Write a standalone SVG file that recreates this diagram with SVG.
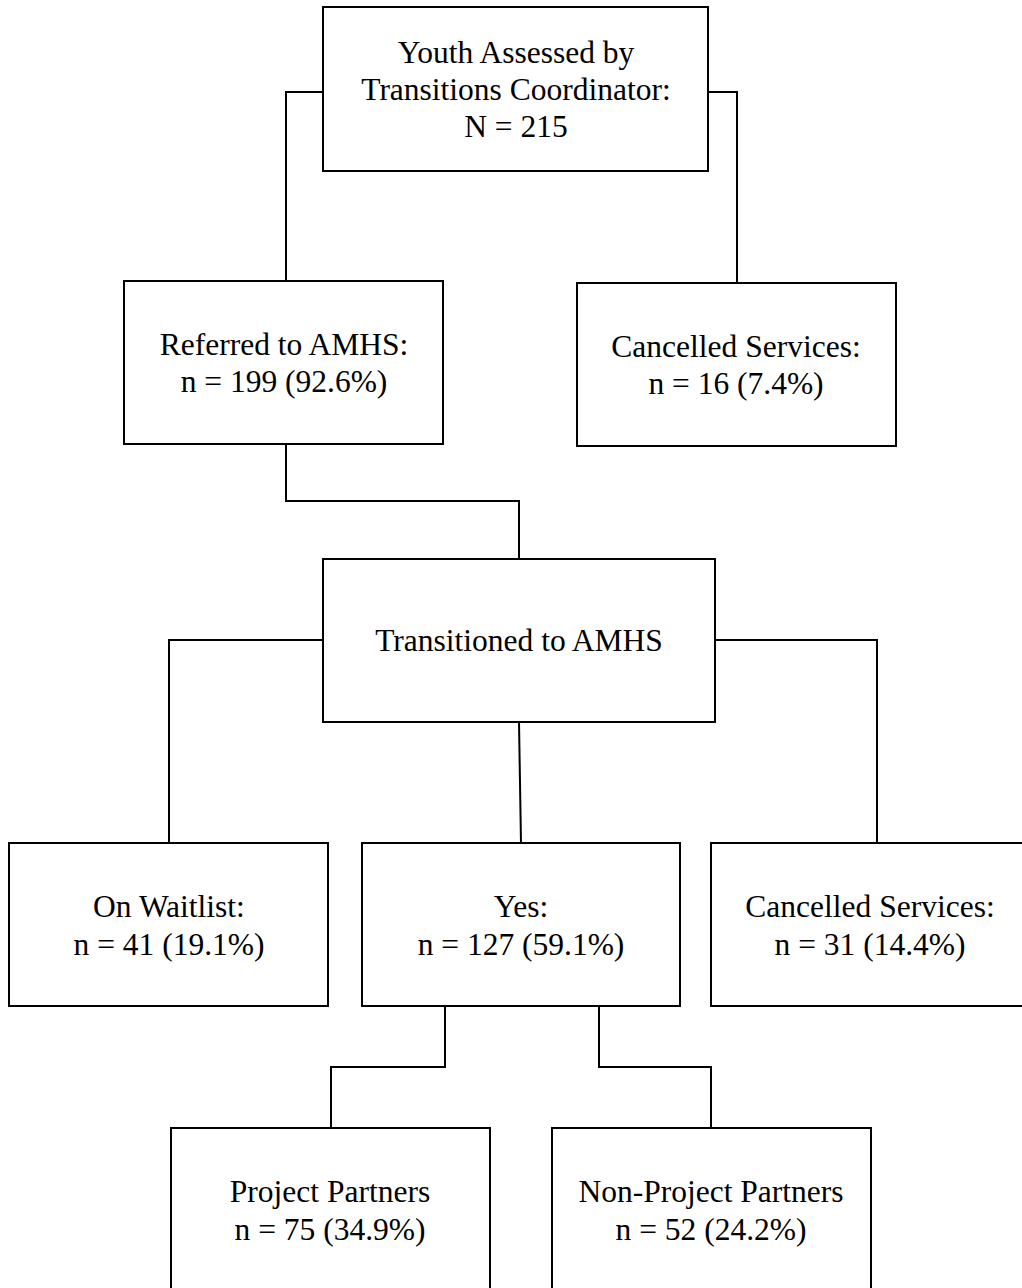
<svg xmlns="http://www.w3.org/2000/svg" width="1022" height="1288" viewBox="0 0 1022 1288">
<style>
.box{fill:#fff;stroke:#000;stroke-width:2}
.con{fill:none;stroke:#000;stroke-width:2}
text{font-family:"Liberation Serif","Times New Roman",serif;font-size:31.5px;fill:#000;text-anchor:middle}
</style>
<rect width="1022" height="1288" fill="#fff"/>
<g id="connectors">
<polyline class="con" points="323,92 286,92 286,282"/>
<polyline class="con" points="708,92 737,92 737,283"/>
<polyline class="con" points="286,444 286,501 519,501 519,559"/>
<polyline class="con" points="323,640 169,640 169,843"/>
<polyline class="con" points="715,640 877,640 877,843"/>
<line class="con" x1="519" y1="722" x2="521" y2="843"/>
<polyline class="con" points="445,1006 445,1067 331,1067 331,1128"/>
<polyline class="con" points="599,1006 599,1067 711,1067 711,1128"/>
</g>
<g id="n-youth">
<rect class="box" x="323" y="7" width="385" height="164"/>
<text x="516" y="63">Youth Assessed by</text>
<text x="516" y="100">Transitions Coordinator:</text>
<text x="516" y="137">N = 215</text>
</g>
<g id="n-referred">
<rect class="box" x="124" y="281" width="319" height="163"/>
<text x="284" y="355">Referred to AMHS:</text>
<text x="284" y="392">n = 199 (92.6%)</text>
</g>
<g id="n-cancelled1">
<rect class="box" x="577" y="283" width="319" height="163"/>
<text x="736" y="357">Cancelled Services:</text>
<text x="736" y="394">n = 16 (7.4%)</text>
</g>
<g id="n-transitioned">
<rect class="box" x="323" y="559" width="392" height="163"/>
<text x="519" y="651">Transitioned to AMHS</text>
</g>
<g id="n-waitlist">
<rect class="box" x="9" y="843" width="319" height="163"/>
<text x="169" y="917">On Waitlist:</text>
<text x="169" y="955">n = 41 (19.1%)</text>
</g>
<g id="n-yes">
<rect class="box" x="362" y="843" width="318" height="163"/>
<text x="521" y="917">Yes:</text>
<text x="521" y="955">n = 127 (59.1%)</text>
</g>
<g id="n-cancelled2">
<rect class="box" x="711" y="843" width="320" height="163"/>
<text x="870" y="917">Cancelled Services:</text>
<text x="870" y="955">n = 31 (14.4%)</text>
</g>
<g id="n-project">
<rect class="box" x="171" y="1128" width="319" height="170"/>
<text x="330" y="1202">Project Partners</text>
<text x="330" y="1240">n = 75 (34.9%)</text>
</g>
<g id="n-nonproject">
<rect class="box" x="552" y="1128" width="319" height="170"/>
<text x="711" y="1202">Non-Project Partners</text>
<text x="711" y="1240">n = 52 (24.2%)</text>
</g>
</svg>
